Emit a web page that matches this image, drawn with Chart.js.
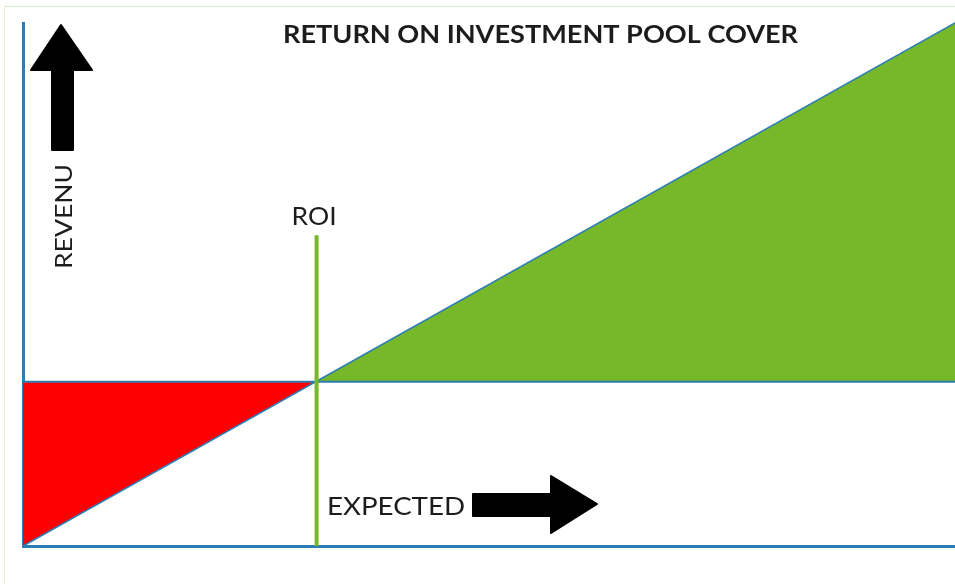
<!DOCTYPE html>
<html>
<head>
<meta charset="utf-8">
<script src="https://cdn.jsdelivr.net/npm/chart.js@4/dist/chart.umd.min.js"></script>
<style>
  html, body { margin: 0; padding: 0; background: #ffffff; overflow: hidden; }
  #wrap { position: relative; width: 955px; height: 584px; }
  #frame { position: absolute; left: 4px; top: 6px; right: 0; bottom: 0;
           border-top: 1px solid #d9edcb; border-left: 1px solid #e3f1d9; }
  canvas { position: absolute; left: 0; top: 0; }
</style>
</head>
<body>
<div id="wrap">
  <div id="frame"></div>
  <canvas id="roiChart"></canvas>
</div>
<script>
// expected (x) vs revenue (y), both on a 0-100 scale
const expected = [0, 100];
const revenue = [0, 100];
const costLevel = 31.4;      // horizontal break-even level
const roiX = 31.5;           // where revenue crosses cost
const roiTop = 59.4;         // height of the ROI marker
const titleText = 'RETURN ON INVESTMENT POOL COVER';

const BLUE = '#2b7db3';
const GREEN = '#77b82a';
const RED = '#ff0000';
const INK = '#1c1c1c';

const revenuePts = expected.map((x, i) => ({ x: x, y: revenue[i] }));
const costPts = [{ x: expected[0], y: costLevel }, { x: expected[1], y: costLevel }];
const roiPts = [{ x: roiX, y: 0 }, { x: roiX, y: roiTop }];

// text in the source is a bit stretched sideways, so squeeze/stretch to a width
function wideText(ctx, text, x, y, width) {
    const w = ctx.measureText(text).width;
    ctx.save();
    ctx.translate(x, y);
    ctx.scale(width / w, 1);
    ctx.textAlign = 'left';
    ctx.fillText(text, 0, 0);
    ctx.restore();
}

const decor = {
    id: 'decor',
    afterDraw(chart) {
        const ctx = chart.ctx;
        const xs = chart.scales.x, ys = chart.scales.y;
        ctx.save();
        ctx.fillStyle = INK;
        ctx.textBaseline = 'alphabetic';

        ctx.font = 'bold 24px Lato';
        wideText(ctx, titleText, 283, 43, 515);

        ctx.font = '25px Lato';
        const rx = xs.getPixelForValue(roiX);
        wideText(ctx, 'ROI', rx - 25, ys.getPixelForValue(roiTop) - 10, 45);
        wideText(ctx, 'EXPECTED', 327, 515, 138);

        ctx.save();
        ctx.font = '24px Lato';
        ctx.translate(72, 269);
        ctx.rotate(-Math.PI / 2);
        wideText(ctx, 'REVENU', 0, 0, 105);
        ctx.restore();

        // arrows
        ctx.fillStyle = '#000';
        ctx.strokeStyle = '#000';
        ctx.lineJoin = 'round';
        ctx.lineWidth = 2;

        ctx.beginPath();
        ctx.moveTo(61, 25);
        ctx.lineTo(92, 70);
        ctx.lineTo(73, 70);
        ctx.lineTo(73, 150);
        ctx.lineTo(52, 150);
        ctx.lineTo(52, 70);
        ctx.lineTo(31, 70);
        ctx.closePath();
        ctx.fill();
        ctx.stroke();

        ctx.beginPath();
        ctx.moveTo(473, 494);
        ctx.lineTo(551, 494);
        ctx.lineTo(551, 476);
        ctx.lineTo(597, 504);
        ctx.lineTo(551, 533);
        ctx.lineTo(551, 516);
        ctx.lineTo(473, 516);
        ctx.closePath();
        ctx.fill();
        ctx.stroke();

        ctx.restore();
    }
};

new Chart(document.getElementById('roiChart'), {
    type: 'scatter',
    data: {
        datasets: [
            {
                label: 'ROI',
                data: roiPts,
                showLine: true,
                borderColor: GREEN,
                borderWidth: 4,
                pointRadius: 0,
                clip: false
            },
            {
                label: 'Cost',
                data: costPts,
                showLine: true,
                borderColor: BLUE,
                borderWidth: 2,
                pointRadius: 0,
                clip: false
            },
            {
                label: 'Revenue',
                data: revenuePts,
                showLine: true,
                borderColor: BLUE,
                borderWidth: 1.5,
                pointRadius: 0,
                clip: false,
                fill: { target: { value: costLevel }, above: GREEN, below: RED }
            }
        ]
    },
    plugins: [decor],
    options: {
        responsive: true,
        maintainAspectRatio: false,
        animation: false,
        layout: { padding: { left: 23, top: 23, right: 0, bottom: 38 } },
        plugins: {
            legend: { display: false },
            tooltip: { enabled: false },
            title: { display: false }
        },
        scales: {
            x: {
                type: 'linear', min: 0, max: 100,
                grid: { display: false, drawTicks: false },
                ticks: { display: false },
                border: { color: BLUE, width: 3 }
            },
            y: {
                type: 'linear', min: 0, max: 100,
                grid: { display: false, drawTicks: false },
                ticks: { display: false },
                border: { color: BLUE, width: 3 }
            }
        }
    }
});
</script>
</body>
</html>
